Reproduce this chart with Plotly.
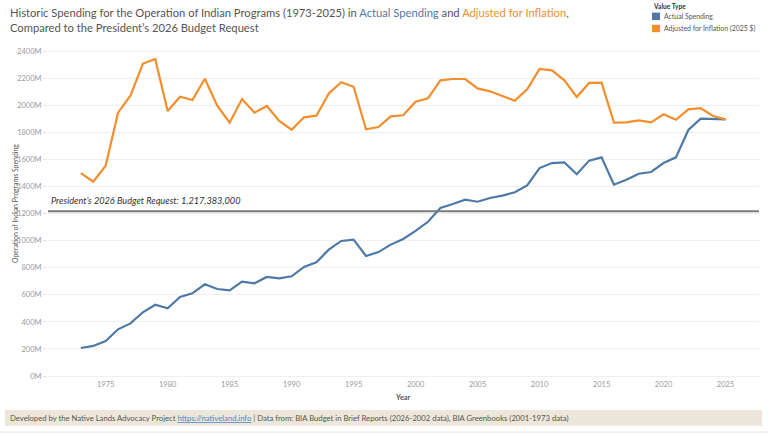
import plotly.graph_objects as go

# ---------------- data ----------------
years = list(range(1973, 2026))
actual_spending = [207, 222, 259, 345, 389, 471, 527, 500, 584, 611,
                   678, 643, 633, 697, 685, 732, 722, 737, 806, 840,
                   934, 998, 1008, 887, 916, 971, 1013, 1072, 1140, 1242,
                   1271, 1303, 1288, 1316, 1333, 1358, 1409, 1537, 1574, 1579,
                   1491, 1592, 1616, 1414, 1451, 1495, 1508, 1574, 1616, 1818,
                   1902, 1900, 1897]
adjusted_2025 = [1500, 1436, 1554, 1946, 2072, 2308, 2343, 1959, 2064, 2040,
                 2197, 1998, 1872, 2047, 1946, 1996, 1885, 1820, 1912, 1924,
                 2089, 2171, 2138, 1823, 1840, 1919, 1927, 2027, 2052, 2185,
                 2195, 2195, 2126, 2104, 2069, 2035, 2119, 2269, 2259, 2185,
                 2062, 2166, 2168, 1872, 1875, 1890, 1875, 1934, 1894, 1971,
                 1979, 1922, 1897]
budget_request_2026 = 1217.383  # millions
series_names = ["Actual Spending", "Adjusted for Inflation (2025 $)"]
y_tick_values = [0, 200, 400, 600, 800, 1000, 1200, 1400, 1600, 1800, 2000, 2200, 2400]
y_tick_labels = ["0M", "200M", "400M", "600M", "800M", "1000M", "1200M", "1400M",
                 "1600M", "1800M", "2000M", "2200M", "2400M"]
x_tick_values = [1975, 1980, 1985, 1990, 1995, 2000, 2005, 2010, 2015, 2020, 2025]

# ---------------- style ----------------
BLUE = "#4e79a7"
ORANGE = "#f28e2b"
FONT = "Lato"
W, H = 768, 434
L, R, T, B = 48, 9, 50, 56
PW, PH = W - L - R, H - T - B


def px(x):
    return (x - L) / PW


def py(y):
    return (H - B - y) / PH


fig = go.Figure()
fig.add_trace(go.Scatter(x=years, y=actual_spending, mode="lines", name=series_names[0],
                         line=dict(color=BLUE, width=2.2), showlegend=False))
fig.add_trace(go.Scatter(x=years, y=adjusted_2025, mode="lines", name=series_names[1],
                         line=dict(color=ORANGE, width=2.2), showlegend=False))

# reference line
fig.add_shape(type="line", xref="paper", x0=0, x1=1, yref="y",
              y0=budget_request_2026, y1=budget_request_2026,
              line=dict(color="#7a7a7a", width=2), layer="above")
fig.add_annotation(xref="paper", x=px(49), yref="y", y=budget_request_2026, yshift=3,
                   xanchor="left", yanchor="bottom", showarrow=False,
                   text="<i>President\u2019s 2026 Budget Request: 1,217,383,000</i>",
                   font=dict(family=FONT, size=9.2, color="#333333"))

annotations = []
# title
annotations.append(dict(
    xref="paper", yref="paper", x=px(8), y=py(4), xanchor="left", yanchor="top",
    align="left", showarrow=False,
    text=("Historic Spending for the Operation of Indian Programs (1973-2025) in "
          f"<span style='color:{BLUE}'>Actual Spending</span> and "
          f"<span style='color:{ORANGE}'>Adjusted for Inflation</span>,<br>"
          "Compared to the President\u2019s 2026 Budget Request"),
    font=dict(family=FONT, size=11.2, color="#555555")))
# legend
annotations.append(dict(xref="paper", yref="paper", x=px(651), y=py(6), xanchor="left",
                        yanchor="middle", showarrow=False, text="<b>Value Type</b>",
                        font=dict(family=FONT, size=6.6, color="#333333")))
for i, (name, col) in enumerate([(series_names[0], BLUE), (series_names[1], ORANGE)]):
    yc = 16.3 + i * 12.2
    fig.add_shape(type="rect", xref="paper", yref="paper", x0=px(652), x1=px(660),
                  y0=py(yc - 3.7), y1=py(yc + 3.7), fillcolor=col, line=dict(width=0))
    annotations.append(dict(xref="paper", yref="paper", x=px(662), y=py(yc), xanchor="left",
                            yanchor="middle", showarrow=False, text=name,
                            font=dict(family=FONT, size=6.9, color="#555555")))
# axis titles
annotations.append(dict(xref="paper", yref="paper", x=px(15), y=py(204), xanchor="center",
                        yanchor="middle", textangle=-90, showarrow=False,
                        text="Operation of Indian Programs Spending",
                        font=dict(family=FONT, size=6.9, color="#555555")))
annotations.append(dict(xref="paper", yref="paper", x=px(403), y=py(397), xanchor="center",
                        yanchor="middle", showarrow=False, text="<b>Year</b>",
                        font=dict(family=FONT, size=7.3, color="#555555")))
# footer
fig.add_shape(type="rect", xref="paper", yref="paper", x0=px(5), x1=px(762),
              y0=py(426), y1=py(410), fillcolor="#ece7da", line=dict(width=0), layer="below")
fig.add_shape(type="line", xref="paper", yref="paper", x0=px(0), x1=px(768),
              y0=py(432), y1=py(432), line=dict(color="#e6e6e6", width=1))
annotations.append(dict(
    xref="paper", yref="paper", x=px(8), y=py(418), xanchor="left", yanchor="middle",
    showarrow=False,
    text=("Developed by the Native Lands Advocacy Project "
          "<span style='color:#4a86c5'><u>https://nativeland.info</u></span> | "
          "Data from: BIA Budget in Brief Reports (2026-2002 data), BIA Greenbooks (2001-1973 data)"),
    font=dict(family=FONT, size=7.7, color="#555555")))

for a in annotations:
    fig.add_annotation(**a)

fig.update_layout(
    width=W, height=H, margin=dict(l=L, r=R, t=T, b=B),
    paper_bgcolor="white", plot_bgcolor="white",
    font=dict(family=FONT, color="#555555"),
    showlegend=False,
    xaxis=dict(range=[1970.35, 2027.7], tickvals=x_tick_values, showgrid=False,
               zeroline=False, showline=False, ticks="",
               tickfont=dict(family=FONT, size=7.5, color="#999999")),
    yaxis=dict(range=[-14.8, 2409.5], tickvals=y_tick_values, ticktext=y_tick_labels,
               showgrid=True, gridcolor="#efefef", gridwidth=1, zeroline=False,
               showline=False, ticks="outside", ticklen=4, tickcolor="#e4e4e4",
               tickfont=dict(family=FONT, size=7.5, color="#999999")),
)

fig.write_html("out.html", config={"displayModeBar": False},
               post_script="document.body.style.margin='0';document.body.style.overflow='hidden';")
